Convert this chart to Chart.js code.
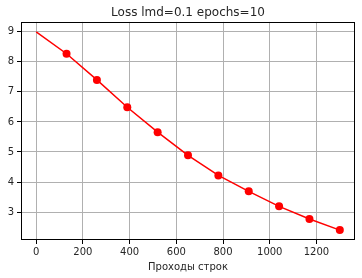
<!DOCTYPE html>
<html>
<head>
<meta charset="utf-8">
<script src="https://cdn.jsdelivr.net/npm/chart.js@4/dist/chart.umd.min.js"></script>
<style>
  html, body { margin: 0; padding: 0; background: #fff; }
  #wrap { width: 362px; height: 278px; }
</style>
</head>
<body>
<div id="wrap"><canvas id="c" width="362" height="278"></canvas></div>
<script>
const lineX = [0, 130, 260, 390, 520, 650, 780, 910, 1040, 1170, 1300];
const lineY = [9.0, 8.27, 7.40, 6.49, 5.66, 4.89, 4.22, 3.69, 3.19, 2.77, 2.40];
const markX = [130, 260, 390, 520, 650, 780, 910, 1040, 1170, 1300];
const markY = [8.27, 7.40, 6.49, 5.66, 4.89, 4.22, 3.69, 3.19, 2.77, 2.40];
const xTicks = [0, 200, 400, 600, 800, 1000, 1200];
const yTicks = [3, 4, 5, 6, 7, 8, 9];

const RED = "#ff0000";
const TEXT = "#262626";
const GRID = "#b0b0b0";
const font = (size) => ({ family: "DejaVu Sans", size });
const pts = (xs, ys) => xs.map((x, i) => ({ x, y: ys[i] }));

// matplotlib-style box around the plot area
const frame = {
  id: "frame",
  afterDraw(chart) {
    const { ctx, chartArea: a } = chart;
    ctx.save();
    ctx.strokeStyle = "#000";
    ctx.lineWidth = 1;
    ctx.strokeRect(Math.round(a.left) + 0.5, Math.round(a.top) + 0.5,
      Math.round(a.right - a.left) - 1, Math.round(a.bottom - a.top) - 1);
    ctx.restore();
  },
};

new Chart(document.getElementById("c"), {
  type: "scatter",
  data: {
    datasets: [
      { data: pts(lineX, lineY), showLine: true, borderColor: RED, borderWidth: 1.5,
        pointRadius: 0, tension: 0, order: 2 },
      { data: pts(markX, markY), showLine: false, backgroundColor: RED, borderWidth: 0,
        pointRadius: 4, pointHoverRadius: 4, order: 1 },
    ],
  },
  options: {
    responsive: false,
    animation: false,
    layout: { padding: { left: 0, right: 7, top: 0, bottom: 0 } },
    plugins: {
      legend: { display: false },
      tooltip: { enabled: false },
      // fullSize off so the title centres over the plot area, not the canvas
      title: { display: true, fullSize: false, text: "Loss lmd=0.1 epochs=10", color: TEXT,
        font: { ...font(12), weight: "normal" }, padding: { top: 6, bottom: 1.5 } },
    },
    scales: {
      x: {
        type: "linear", min: -65, max: 1365,
        afterBuildTicks: (s) => { s.ticks = xTicks.map((v) => ({ value: v })); },
        afterFit: (s) => { s.height = 38; },
        grid: { color: GRID, lineWidth: 1, tickLength: 4, tickColor: "#000" },
        border: { display: false },
        ticks: { color: TEXT, font: font(10), padding: 2, maxRotation: 0, callback: (v) => String(v) },
        title: { display: true, text: "Проходы строк", color: TEXT, font: font(10), padding: { top: 0, bottom: 5 } },
      },
      y: {
        min: 2.07, max: 9.33,
        afterBuildTicks: (s) => { s.ticks = yTicks.map((v) => ({ value: v })); },
        afterFit: (s) => { s.width = 21; },
        grid: { color: GRID, lineWidth: 1, tickLength: 4, tickColor: "#000" },
        border: { display: false },
        ticks: { color: TEXT, font: font(10), padding: 3, callback: (v) => String(v) },
      },
    },
  },
  plugins: [frame],
});
</script>
</body>
</html>
